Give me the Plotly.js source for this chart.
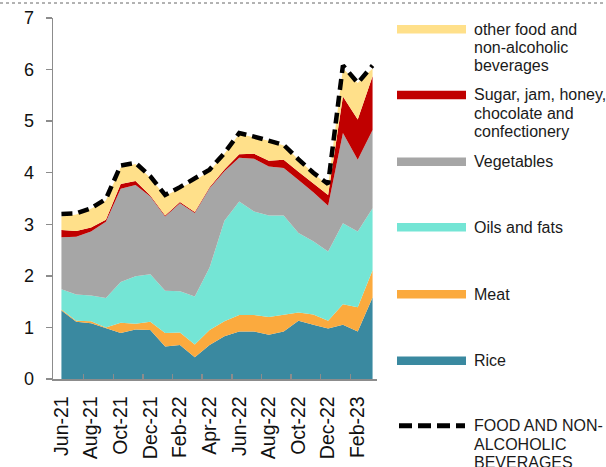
<!DOCTYPE html>
<html>
<head>
<meta charset="utf-8">
<script src="https://cdn.plot.ly/plotly-3.0.1.min.js"></script>
<style>html,body{margin:0;padding:0;background:#fff;}#chart{width:606px;height:467px;}</style>
</head>
<body>
<div id="chart"></div>
<script>
// Months (categories)
var months = ["Jun-21","Jul-21","Aug-21","Sep-21","Oct-21","Nov-21","Dec-21","Jan-22","Feb-22","Mar-22","Apr-22","May-22","Jun-22","Jul-22","Aug-22","Sep-22","Oct-22","Nov-22","Dec-22","Jan-23","Feb-23","Mar-23"];
// Tick labels shown on the axis
var tickLabels = ["Jun-21","Aug-21","Oct-21","Dec-21","Feb-22","Apr-22","Jun-22","Aug-22","Oct-22","Dec-22","Feb-23"];

// Contributions (percentage points), stacked
var rice      = [1.33,1.11,1.08,0.98,0.89,0.96,0.95,0.63,0.66,0.42,0.66,0.83,0.92,0.92,0.86,0.92,1.13,1.05,0.98,1.05,0.92,1.58];
var meat      = [0.02,0.02,0.04,0.02,0.20,0.11,0.16,0.26,0.24,0.25,0.29,0.29,0.32,0.32,0.34,0.32,0.16,0.20,0.15,0.40,0.47,0.53];
var oils      = [0.39,0.51,0.50,0.57,0.79,0.92,0.92,0.82,0.80,0.93,1.21,1.95,2.20,2.01,1.97,1.93,1.54,1.42,1.34,1.57,1.47,1.20];
var vegetables= [1.01,1.12,1.24,1.48,1.81,1.77,1.51,1.44,1.71,1.62,1.54,0.96,0.85,1.02,0.95,0.92,1.03,0.95,0.89,1.75,1.39,1.52];
var sugar     = [0.14,0.11,0.08,0.04,0.09,0.08,0.02,0.02,0.02,0.02,0.02,0.03,0.07,0.10,0.11,0.16,0.16,0.18,0.21,0.71,0.78,1.04];
var otherFood = [0.26,0.32,0.36,0.37,0.32,0.33,0.34,0.38,0.27,0.61,0.31,0.31,0.39,0.32,0.39,0.28,0.23,0.19,0.18,0.54,0.71,0.15];
// Headline: food and non-alcoholic beverages
var total     = [3.20,3.21,3.31,3.49,4.14,4.19,3.93,3.57,3.72,3.88,4.06,4.38,4.77,4.70,4.62,4.54,4.26,4.00,3.78,6.08,5.74,6.08];

var seriesNames = ["Rice","Meat","Oils and fats","Vegetables","Sugar, jam, honey, chocolate and confectionery","other food and non-alcoholic beverages"];
var seriesData = [rice, meat, oils, vegetables, sugar, otherFood];
var seriesColors = ["#3A89A0","#FBAA3E","#74E5D5","#A6A6A6","#C00000","#FFE08A"];

var xIdx = months.map(function(m,i){return i;});
var tickIdx = tickLabels.map(function(t){return months.indexOf(t);});

var traces = seriesData.map(function(d,k){
  return {
    x: xIdx, y: d, name: seriesNames[k], type:'scatter', mode:'lines',
    stackgroup:'one', fill: k===0 ? 'tozeroy':'tonexty',
    line:{width:0, color:seriesColors[k]}, fillcolor:seriesColors[k],
    hoverinfo:'skip', showlegend:false
  };
});
traces.push({
  x: xIdx, y: total, name:"FOOD AND NON-ALCOHOLIC BEVERAGES", type:'scatter', mode:'lines',
  line:{color:'#000', width:4.5, dash:'11px,6px'}, showlegend:false, hoverinfo:'skip'
});

// pixel helpers for the manual legend (paper coords)
var L=53, R=377, T=18, B=379;
function px(x){return (x-L)/(R-L);}
function py(y){return (B-y)/(B-T);}

var font = "Arial, 'Liberation Sans', sans-serif";
var legendItems = [
  {color:"#FFE08A", y:29.3, lines:["other food and","non-alcoholic","beverages"]},
  {color:"#C00000", y:95, lines:["Sugar, jam, honey,","chocolate and","confectionery"]},
  {color:"#A6A6A6", y:161.7, lines:["Vegetables"]},
  {color:"#74E5D5", y:227.3, lines:["Oils and fats"]},
  {color:"#FBAA3E", y:294.3, lines:["Meat"]},
  {color:"#3A89A0", y:360.7, lines:["Rice"]},
  {color:"#000", y:425.7, dashed:true, lines:["FOOD AND NON-","ALCOHOLIC","BEVERAGES"]}
];
var shapes = [], annotations = [];
legendItems.forEach(function(it){
  if(it.dashed){
    shapes.push({type:'line', xref:'paper', yref:'paper', x0:px(399), x1:px(465), y0:py(it.y), y1:py(it.y),
      line:{color:'#000', width:5, dash:'13px,6px'}});
  } else {
    shapes.push({type:'rect', xref:'paper', yref:'paper', x0:px(397), x1:px(466), y0:py(it.y-4.2), y1:py(it.y+4.2),
      line:{width:0}, fillcolor:it.color});
  }
  it.lines.forEach(function(t,j){
    annotations.push({xref:'paper', yref:'paper', x:px(472), y:py(it.y+j*18.3), xanchor:'left', yanchor:'middle',
      text:t, showarrow:false, font:{family:font, size:16, color:'#1a1a1a'}});
  });
});
// dotted border line at the very top
shapes.push({type:'line', xref:'paper', yref:'paper', x0:px(0), x1:px(606), y0:py(3), y1:py(3),
  line:{color:'#666', width:1, dash:'dot'}});

var minorTicks = [];
for (var i=0;i<tickIdx.length;i++){ minorTicks.push(tickIdx[i]+1.5); }

var layout = {
  width:606, height:467,
  margin:{l:L, r:606-R, t:T, b:467-B, pad:0},
  paper_bgcolor:'#fff', plot_bgcolor:'#fff',
  showlegend:false,
  xaxis:{
    range:[-0.57,21.3], tickmode:'array', tickvals:tickIdx, ticktext:tickLabels,
    tickangle:-90, ticks:'', showgrid:false, zeroline:false,
    showline:true, linecolor:'#8c8c8c', linewidth:1.5,
    tickfont:{family:font, size:19.5, color:'#111'}, ticklabelstandoff:8,
    minor:{tickmode:'array', tickvals:minorTicks, ticks:'inside', ticklen:5, tickcolor:'#8c8c8c', tickwidth:1.5, showgrid:false}
  },
  yaxis:{
    range:[0,7], dtick:1, ticks:'outside', ticklen:6, tickcolor:'#8c8c8c', tickwidth:1.5,
    showgrid:false, zeroline:false, showline:true, linecolor:'#8c8c8c', linewidth:1.5,
    tickfont:{family:font, size:18, color:'#111'}, ticklabelstandoff:8
  },
  shapes:shapes, annotations:annotations
};
Plotly.newPlot('chart', traces, layout, {staticPlot:true, displayModeBar:false});
</script>
</body>
</html>
